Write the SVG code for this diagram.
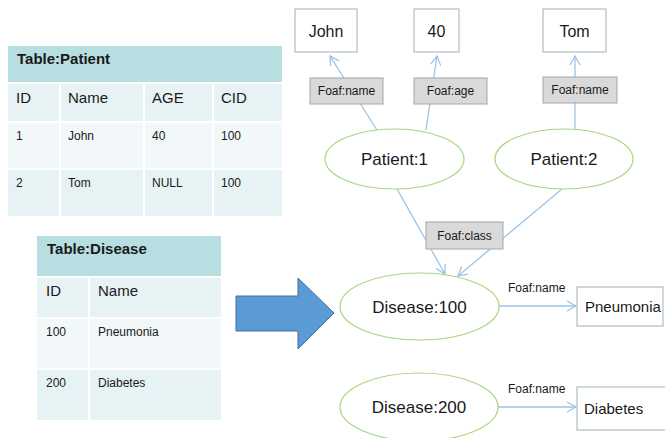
<svg xmlns="http://www.w3.org/2000/svg" width="665" height="438" viewBox="0 0 665 438">
<defs>
<style>
text{font-family:"Liberation Sans",Arial,sans-serif;fill:#1a1a1a}
.hd{fill:#B7DEE1}
.r1{fill:#E6F2F4}
.r2{fill:#F2F8FA}
.sep{stroke:#ffffff;stroke-width:2}
.th{font-size:15px;font-weight:bold}
.ch{font-size:15px}
.cd{font-size:12px}
.lit{fill:#ffffff;stroke:#9FB4BC;stroke-width:1}
.lt{font-size:16px}
.pl{fill:#D9D9D9;stroke:#A6A6A6;stroke-width:1}
.pt{font-size:12px}
.el{fill:#ffffff;stroke:#A9D77E;stroke-width:1.2}
.et{font-size:17px}
.edge{stroke:#9DC3E6;stroke-width:1.3;fill:none}
</style>
<marker id="ah" markerWidth="12" markerHeight="12" refX="10" refY="6" orient="auto" markerUnits="userSpaceOnUse">
<path d="M1,1 L10,6 L1,11" fill="none" stroke="#9DC3E6" stroke-width="1.3"/>
</marker>
</defs>

<g id="table-patient">
<rect class="hd" x="8" y="46" width="274" height="36"/>
<rect class="r1" x="8" y="84" width="274" height="38"/>
<rect class="r2" x="8" y="122" width="274" height="47"/>
<rect class="r1" x="8" y="169" width="274" height="47"/>
<line class="sep" x1="8" y1="83" x2="282" y2="83"/>
<line class="sep" x1="8" y1="122" x2="282" y2="122"/>
<line class="sep" x1="8" y1="169" x2="282" y2="169"/>
<line class="sep" x1="60" y1="84" x2="60" y2="216"/>
<line class="sep" x1="144" y1="84" x2="144" y2="216"/>
<line class="sep" x1="213" y1="84" x2="213" y2="216"/>
<text class="th" x="17" y="64">Table:Patient</text>
<text class="ch" x="16" y="103">ID</text>
<text class="ch" x="68" y="103">Name</text>
<text class="ch" x="152" y="103">AGE</text>
<text class="ch" x="221" y="103">CID</text>
<text class="cd" x="16" y="140">1</text>
<text class="cd" x="68" y="140">John</text>
<text class="cd" x="152" y="140">40</text>
<text class="cd" x="221" y="140">100</text>
<text class="cd" x="16" y="187">2</text>
<text class="cd" x="68" y="187">Tom</text>
<text class="cd" x="152" y="187">NULL</text>
<text class="cd" x="221" y="187">100</text>
</g>

<g id="table-disease">
<rect class="hd" x="37" y="236" width="184" height="40"/>
<rect class="r1" x="37" y="278" width="184" height="40"/>
<rect class="r2" x="37" y="318" width="184" height="51"/>
<rect class="r1" x="37" y="369" width="184" height="51"/>
<line class="sep" x1="37" y1="277" x2="221" y2="277"/>
<line class="sep" x1="37" y1="318" x2="221" y2="318"/>
<line class="sep" x1="37" y1="369" x2="221" y2="369"/>
<line class="sep" x1="89" y1="278" x2="89" y2="420"/>
<text class="th" x="47" y="254">Table:Disease</text>
<text class="ch" x="46" y="296">ID</text>
<text class="ch" x="98" y="296">Name</text>
<text class="cd" x="46" y="336">100</text>
<text class="cd" x="98" y="336">Pneumonia</text>
<text class="cd" x="46" y="387">200</text>
<text class="cd" x="98" y="387">Diabetes</text>
</g>

<g id="big-arrow">
<polygon points="236,296 298,296 298,278 334,313 298,349 298,331 236,331" fill="#5B9BD5" stroke="#41719C" stroke-width="1"/>
</g>

<g id="connectors">
<line class="edge" x1="377" y1="130" x2="330" y2="56" marker-end="url(#ah)"/>
<line class="edge" x1="426" y1="130" x2="437" y2="56" marker-end="url(#ah)"/>
<line class="edge" x1="575" y1="129" x2="575" y2="56" marker-end="url(#ah)"/>
<line class="edge" x1="397" y1="189" x2="445" y2="274" marker-end="url(#ah)"/>
<line class="edge" x1="562" y1="189" x2="458" y2="276" marker-end="url(#ah)"/>
<line class="edge" x1="499" y1="306" x2="576" y2="306" marker-end="url(#ah)"/>
<line class="edge" x1="498" y1="407" x2="576" y2="407" marker-end="url(#ah)"/>
<text class="pt" x="508" y="292">Foaf:name</text>
<text class="pt" x="508" y="393">Foaf:name</text>
</g>

<g id="lbl-john-name"><rect class="pl" x="310" y="78" width="73" height="26"/><text class="pt" x="346.5" y="95" text-anchor="middle">Foaf:name</text></g>
<g id="lbl-john-age"><rect class="pl" x="414" y="78" width="73" height="26"/><text class="pt" x="450.5" y="95" text-anchor="middle">Foaf:age</text></g>
<g id="lbl-tom-name"><rect class="pl" x="543" y="77" width="74" height="26"/><text class="pt" x="580" y="94" text-anchor="middle">Foaf:name</text></g>
<g id="lbl-class"><rect class="pl" x="426" y="222" width="77" height="27"/><text class="pt" x="464.5" y="240" text-anchor="middle">Foaf:class</text></g>

<g id="lit-john"><rect class="lit" x="295" y="9" width="62" height="43"/><text class="lt" x="326" y="37" text-anchor="middle">John</text></g>
<g id="lit-40"><rect class="lit" x="414" y="9" width="45" height="43"/><text class="lt" x="436.5" y="37" text-anchor="middle">40</text></g>
<g id="lit-tom"><rect class="lit" x="543" y="9" width="63" height="43"/><text class="lt" x="574.5" y="37" text-anchor="middle">Tom</text></g>

<g id="patient1"><ellipse class="el" cx="394.5" cy="159" rx="69.5" ry="30"/><text class="et" x="394.5" y="165" text-anchor="middle">Patient:1</text></g>
<g id="patient2"><ellipse class="el" cx="564" cy="159" rx="69" ry="30"/><text class="et" x="564" y="165" text-anchor="middle">Patient:2</text></g>
<g id="disease100"><ellipse class="el" cx="419.5" cy="306.5" rx="79.5" ry="33.5"/><text class="et" x="419.5" y="313" text-anchor="middle">Disease:100</text></g>
<g id="disease200"><ellipse class="el" cx="419" cy="407" rx="79" ry="34"/><text class="et" x="419" y="413" text-anchor="middle">Disease:200</text></g>

<g id="lit-pneumonia"><rect class="lit" x="577" y="287" width="86" height="39"/><text class="lt" x="585" y="312" style="font-size:15px">Pneumonia</text></g>
<g id="lit-diabetes"><rect class="lit" x="577" y="387" width="100" height="43"/><text class="lt" x="584" y="414" style="font-size:15px">Diabetes</text></g>
</svg>
